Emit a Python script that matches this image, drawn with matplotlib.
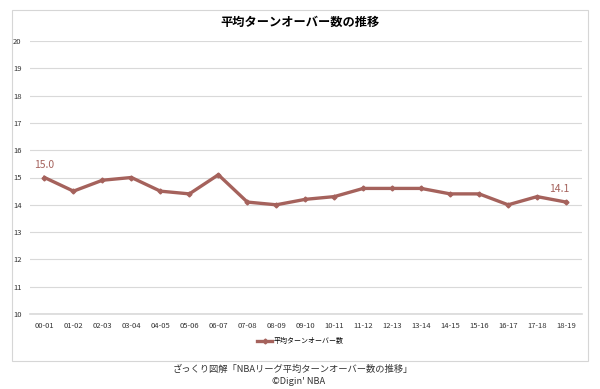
import matplotlib
matplotlib.use('Agg')
from matplotlib import pyplot as plt
from matplotlib.patches import Rectangle

plt.rcParams['font.family'] = ['Noto Sans CJK JP', 'DejaVu Sans']

seasons = ['00-01', '01-02', '02-03', '03-04', '04-05', '05-06', '06-07', '07-08', '08-09', '09-10',
           '10-11', '11-12', '12-13', '13-14', '14-15', '15-16', '16-17', '17-18', '18-19']
turnovers = [15.0, 14.5, 14.9, 15.0, 14.5, 14.4, 15.1, 14.1, 14.0, 14.2,
             14.3, 14.6, 14.6, 14.6, 14.4, 14.4, 14.0, 14.3, 14.1]
yticks = [10, 11, 12, 13, 14, 15, 16, 17, 18, 19, 20]

line_color = '#A5625C'

fig = plt.figure(figsize=(6, 3.89), dpi=100)
fig.patch.set_facecolor('white')

# outer chart frame
fig.patches.append(Rectangle((12/600, 1-361/389), 576/600, 351/389, transform=fig.transFigure,
                             fill=False, edgecolor='#d6d6d6', linewidth=0.8))

ax = fig.add_axes([30/600, 1-314/389, 552/600, 273/389])
x = list(range(len(seasons)))
ax.plot(x, turnovers, color=line_color, linewidth=2.4, marker='D', markersize=2.5, label='平均ターンオーバー数',
        solid_joinstyle='round')
ax.set_xlim(-0.5, len(seasons) - 0.45)
ax.set_ylim(10, 20)
ax.set_yticks(yticks)
ax.set_yticklabels([str(v) for v in yticks], fontsize=5.5, color='#333333')
ax.set_xticks(x)
ax.set_xticklabels(seasons, fontsize=5.5, color='#333333')
ax.tick_params(length=0, pad=6)
ax.grid(axis='y', color='#d9d9d9', linewidth=0.8)
ax.set_axisbelow(True)
for s in ['top', 'right', 'left']:
    ax.spines[s].set_visible(False)
ax.spines['bottom'].set_color('#d9d9d9')
ax.spines['bottom'].set_linewidth(1.2)

ax.annotate(f'{turnovers[0]:.1f}', (x[0], turnovers[0]), xytext=(0, 7), textcoords='offset points',
            ha='center', fontsize=7.5, color=line_color)
ax.annotate(f'{turnovers[-1]:.1f}', (x[-1], turnovers[-1]), xytext=(-5, 7), textcoords='offset points',
            ha='center', fontsize=7.5, color=line_color)

fig.text(300/600, 1-22/389, '平均ターンオーバー数の推移', ha='center', va='center', fontsize=8.8, fontweight='bold')

ax.legend(loc='center', bbox_to_anchor=(0.49, -0.1), frameon=False, fontsize=5, handlelength=2.2,
          handletextpad=0.2)

fig.text(293/600, 1-369/389, 'ざっくり図解「NBAリーグ平均ターンオーバー数の推移」', ha='center', va='center',
         fontsize=6.7, color='#333333')
fig.text(299/600, 1-382/389, "©Digin' NBA", ha='center', va='center', fontsize=6.7, color='#333333')

fig.savefig('out.png', dpi=100)
